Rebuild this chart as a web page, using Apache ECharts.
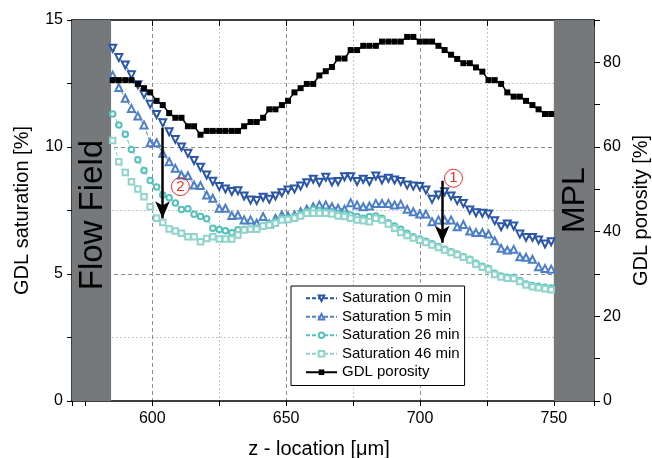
<!DOCTYPE html>
<html>
<head>
<meta charset="utf-8">
<script src="https://cdn.jsdelivr.net/npm/echarts@6/dist/echarts.min.js"></script>
<style>
  html, body { margin: 0; padding: 0; background: #fff; }
  #chart { width: 652px; height: 458px; }
</style>
</head>
<body>
<div id="chart"></div>
<script>
// z - location of the slices [um]
const zLocation = [585.2, 587.5, 589.9, 592.2, 594.6, 596.9, 599.2, 601.6, 603.9, 606.3,
  608.6, 610.9, 613.3, 615.6, 618.0, 620.3, 622.6, 625.0, 627.3, 629.7,
  632.0, 634.3, 636.7, 639.0, 641.4, 643.7, 646.0, 648.4, 650.7, 653.1,
  655.4, 657.7, 660.1, 662.4, 664.8, 667.1, 669.4, 671.8, 674.1, 676.5,
  678.8, 681.1, 683.5, 685.8, 688.2, 690.5, 692.8, 695.2, 697.5, 699.9,
  702.2, 704.5, 706.9, 709.2, 711.6, 713.9, 716.2, 718.6, 720.9, 723.3,
  725.6, 727.9, 730.3, 732.6, 735.0, 737.3, 739.6, 742.0, 744.3, 746.7, 749.0];

// GDL saturation [%]
const sat0min = [13.89, 13.52, 13.23, 12.84, 12.45, 12.07, 11.68, 11.28, 10.95, 10.6,
  10.3, 10.0, 9.75, 9.47, 9.2, 8.9, 8.65, 8.44, 8.35, 8.25,
  8.28, 8.07, 7.91, 7.89, 8.02, 7.94, 8.07, 8.2, 8.31, 8.35,
  8.46, 8.59, 8.73, 8.61, 8.81, 8.62, 8.64, 8.83, 8.83, 8.64,
  8.73, 8.64, 8.86, 8.7, 8.77, 8.7, 8.64, 8.5, 8.46, 8.44,
  8.31, 7.94, 8.11, 8.24, 8.07, 7.89, 7.78, 7.52, 7.41, 7.39,
  7.36, 7.1, 6.86, 6.97, 6.89, 6.57, 6.44, 6.44, 6.34, 6.18, 6.27];
const sat5min = [12.83, 12.34, 11.92, 11.52, 11.22, 10.87, 10.17, 10.17, 9.75, 9.42,
  9.16, 8.9, 8.87, 8.5, 8.48, 8.11, 7.98, 7.59, 7.59, 7.3,
  7.32, 7.13, 7.13, 7.0, 7.26, 6.97, 7.19, 7.32, 7.28, 7.32,
  7.45, 7.55, 7.65, 7.72, 7.72, 7.65, 7.59, 7.55, 7.81, 7.72,
  7.65, 7.68, 7.78, 7.78, 7.78, 7.72, 7.75, 7.55, 7.45, 7.36,
  7.36, 7.06, 7.13, 7.13, 7.13, 6.86, 6.95, 6.69, 6.63, 6.63,
  6.57, 6.31, 6.01, 5.94, 5.97, 5.68, 5.66, 5.58, 5.29, 5.22, 5.19];
const sat26min = [11.3, 10.87, 10.5, 9.9, 9.5, 9.07, 8.68, 8.43, 8.11, 8.0,
  7.8, 7.54, 7.57, 7.35, 7.26, 7.18, 6.8, 6.75, 6.7, 6.62,
  6.74, 6.76, 6.76, 6.8, 6.89, 6.97, 7.06, 7.19, 7.19, 7.26,
  7.36, 7.45, 7.55, 7.5, 7.45, 7.45, 7.39, 7.36, 7.32, 7.26,
  7.19, 7.26, 7.28, 7.19, 7.02, 6.89, 6.76, 6.6, 6.47, 6.38,
  6.29, 6.19, 6.08, 5.97, 5.88, 5.79, 5.68, 5.58, 5.42, 5.31,
  5.22, 5.03, 4.92, 4.87, 4.87, 4.74, 4.61, 4.55, 4.52, 4.48, 4.45];
const sat46min = [10.26, 9.42, 9.0, 8.63, 8.35, 8.04, 7.65, 7.19, 7.03, 6.77,
  6.69, 6.6, 6.47, 6.47, 6.27, 6.4, 6.47, 6.38, 6.38, 6.38,
  6.54, 6.73, 6.76, 6.76, 6.89, 6.93, 7.0, 7.13, 7.15, 7.19,
  7.28, 7.39, 7.39, 7.39, 7.39, 7.36, 7.28, 7.26, 7.19, 7.13,
  7.1, 7.06, 7.19, 7.13, 6.97, 6.8, 6.63, 6.52, 6.42, 6.33,
  6.24, 6.14, 6.04, 5.94, 5.85, 5.76, 5.66, 5.55, 5.38, 5.27,
  5.18, 4.98, 4.88, 4.83, 4.82, 4.7, 4.57, 4.5, 4.46, 4.42, 4.38];

// GDL porosity [%]
const porosity = [75.8, 75.8, 75.8, 75.8, 74.9, 73.9, 72.9, 70.9, 69.9, 68.0,
  66.9, 66.9, 64.9, 64.9, 62.9, 63.8, 63.8, 63.8, 63.8, 63.8,
  63.8, 64.9, 65.9, 65.9, 66.9, 68.9, 68.9, 69.9, 70.9, 72.9,
  73.9, 74.9, 74.9, 76.9, 77.9, 78.9, 80.9, 80.9, 82.9, 82.9,
  83.9, 83.9, 83.9, 84.9, 84.9, 84.9, 84.9, 86.0, 86.0, 84.9,
  84.9, 84.9, 83.9, 82.9, 81.8, 80.8, 79.8, 79.8, 78.8, 77.8,
  75.8, 75.8, 74.9, 72.9, 71.9, 71.9, 70.9, 69.9, 68.9, 67.8, 67.8];

// layer bands [um] and annotations
const flowFieldBand = [570, 584.6];
const mplBand = [750, 765];
const arrows = [[603.8, 10.76, 7.19], [708.3, 8.67, 6.23]];
const marks = [['2', 610.5, 8.44], ['1', 712.5, 8.77]];

const font = 'Liberation Sans, Arial, sans-serif';
const pairs = arr => zLocation.map((z, i) => [z, arr[i]]);

const chart = echarts.init(document.getElementById('chart'));

function satSeries(name, data, color, symbol, rotate, size) {
  return {
    name: name,
    type: 'line',
    data: pairs(data),
    symbol: symbol,
    symbolSize: size,
    symbolRotate: rotate,
    showAllSymbol: true,
    lineStyle: { color: color, width: 1, type: [4, 2] },
    itemStyle: { color: color, borderColor: color, borderWidth: 1 }
  };
}

const s0 = satSeries('Saturation 0 min', sat0min, '#2b55a6', 'emptyTriangle', 180, 7);
s0.markArea = {
  silent: true,
  itemStyle: { color: '#76797c', opacity: 1 },
  data: [
    [{ xAxis: flowFieldBand[0] }, { xAxis: flowFieldBand[1] }],
    [{ xAxis: mplBand[0] }, { xAxis: mplBand[1] }]
  ]
};
s0.markLine = {
  silent: true,
  symbol: ['none', 'arrow'],
  symbolSize: [11, 17],
  label: { show: false },
  lineStyle: { color: '#000', width: 2.5, type: 'solid' },
  data: arrows.map(a => [{ coord: [a[0], a[1]] }, { coord: [a[0], a[2]] }])
};
s0.markPoint = {
  silent: true,
  symbol: 'circle',
  symbolSize: 18,
  itemStyle: { color: 'rgba(255,255,255,0)', borderColor: '#e8302a', borderWidth: 1 },
  label: { show: true, formatter: '{b}', color: '#e8302a', fontSize: 15, fontFamily: font },
  data: marks.map(m => ({ name: m[0], coord: [m[1], m[2]] }))
};

const option = {
  animation: false,
  backgroundColor: '#fff',
  textStyle: { fontFamily: font },
  grid: { left: 72, right: 58, top: 20, bottom: 57, containLabel: false, outerBoundsMode: 'none' },
  legend: {
    orient: 'vertical',
    left: 291,
    top: 286,
    padding: [4, 5, 5, 14],
    itemWidth: 31,
    itemHeight: 7,
    itemGap: 2,
    borderColor: '#000',
    borderWidth: 1,
    borderRadius: 0,
    backgroundColor: '#fff',
    textStyle: { fontSize: 15, color: '#000', fontFamily: font, lineHeight: 16.5 },
    data: ['Saturation 0 min', 'Saturation 5 min', 'Saturation 26 min', 'Saturation 46 min', 'GDL porosity']
  },
  xAxis: [{
    type: 'value',
    min: 570,
    max: 765,
    minInterval: 50,
    maxInterval: 50,
    name: 'z - location [\u03bcm]',
    nameLocation: 'middle',
    nameGap: 38,
    nameTextStyle: { fontSize: 20, color: '#000', fontFamily: font, padding: [0, 28, 0, 0] },
    axisLine: { onZero: false, lineStyle: { color: '#000', width: 1.5 } },
    axisTick: { length: 5, lineStyle: { color: '#000', width: 1 } },
    minorTick: { show: true, splitNumber: 2, length: 5, lineStyle: { color: '#000', width: 1 } },
    axisLabel: { fontSize: 16, color: '#000', margin: 10, showMinLabel: false, showMaxLabel: false },
    splitLine: { show: true, showMinLine: false, showMaxLine: false, lineStyle: { color: '#8c8c8c', type: [4, 3], width: 1 } },
    minorSplitLine: { show: true, lineStyle: { color: '#c4c4c4', type: [2, 2], width: 1 } }
  }, {
    type: 'value',
    position: 'top',
    min: 570,
    max: 765,
    minInterval: 50,
    maxInterval: 50,
    axisLine: { onZero: false, lineStyle: { color: '#000', width: 1.5 } },
    axisTick: { inside: true, length: 6, lineStyle: { color: '#000', width: 1 } },
    minorTick: { show: true, splitNumber: 2, length: 6, lineStyle: { color: '#000', width: 1 } },
    axisLabel: { show: false },
    splitLine: { show: false }
  }],
  yAxis: [{
    type: 'value',
    min: 0,
    max: 15,
    interval: 5,
    name: 'GDL saturation [%]',
    nameLocation: 'middle',
    nameGap: 40,
    nameTextStyle: { fontSize: 20, color: '#000', fontFamily: font },
    axisLine: { show: true, lineStyle: { color: '#000', width: 1.5 } },
    axisTick: { length: 5, lineStyle: { color: '#000', width: 1 } },
    minorTick: { show: true, splitNumber: 2, length: 5, lineStyle: { color: '#000', width: 1 } },
    axisLabel: { fontSize: 16, color: '#000', margin: 9 },
    splitLine: { show: true, showMinLine: false, showMaxLine: false, lineStyle: { color: '#8c8c8c', type: [4, 3], width: 1 } },
    minorSplitLine: { show: true, lineStyle: { color: '#c4c4c4', type: [2, 2], width: 1 } }
  }, {
    type: 'value',
    position: 'right',
    min: 0,
    max: 90,
    interval: 20,
    name: 'GDL porosity [%]',
    nameLocation: 'middle',
    nameGap: 37,
    nameTextStyle: { fontSize: 20, color: '#000', fontFamily: font },
    axisLine: { show: true, lineStyle: { color: '#000', width: 1.5 } },
    axisTick: { length: 6, lineStyle: { color: '#000', width: 1 } },
    minorTick: { show: true, splitNumber: 2, length: 6, lineStyle: { color: '#000', width: 1 } },
    axisLabel: { fontSize: 16, color: '#000', margin: 9, showMaxLabel: false },
    splitLine: { show: false }
  }],
  series: [
    s0,
    satSeries('Saturation 5 min', sat5min, '#4d7fc6', 'emptyTriangle', 0, 7),
    satSeries('Saturation 26 min', sat26min, '#56c1bb', 'emptyCircle', 0, 5.5),
    satSeries('Saturation 46 min', sat46min, '#8fd3cb', 'emptyRect', 0, 5.5),
    {
      name: 'GDL porosity',
      type: 'line',
      yAxisIndex: 1,
      data: pairs(porosity),
      symbol: 'rect',
      symbolSize: 6,
      showAllSymbol: true,
      lineStyle: { color: '#000', width: 1.5 },
      itemStyle: { color: '#000' }
    }
  ]
};

chart.setOption(option);

// layer names inside the grey bands
const ff = chart.convertToPixel({ xAxisIndex: 0, yAxisIndex: 0 }, [577.9, 7.32]);
const mpl = chart.convertToPixel({ xAxisIndex: 0, yAxisIndex: 0 }, [758.1, 7.91]);
chart.setOption({
  graphic: [
    { type: 'text', x: ff[0], y: ff[1], rotation: Math.PI / 2, silent: true, z: 100,
      style: { text: 'Flow Field', fontSize: 33, fontFamily: font, fill: '#000', align: 'center', verticalAlign: 'middle' } },
    { type: 'text', x: mpl[0], y: mpl[1], rotation: Math.PI / 2, silent: true, z: 100,
      style: { text: 'MPL', fontSize: 32, fontFamily: font, fill: '#000', align: 'center', verticalAlign: 'middle' } }
  ]
});
</script>
</body>
</html>
